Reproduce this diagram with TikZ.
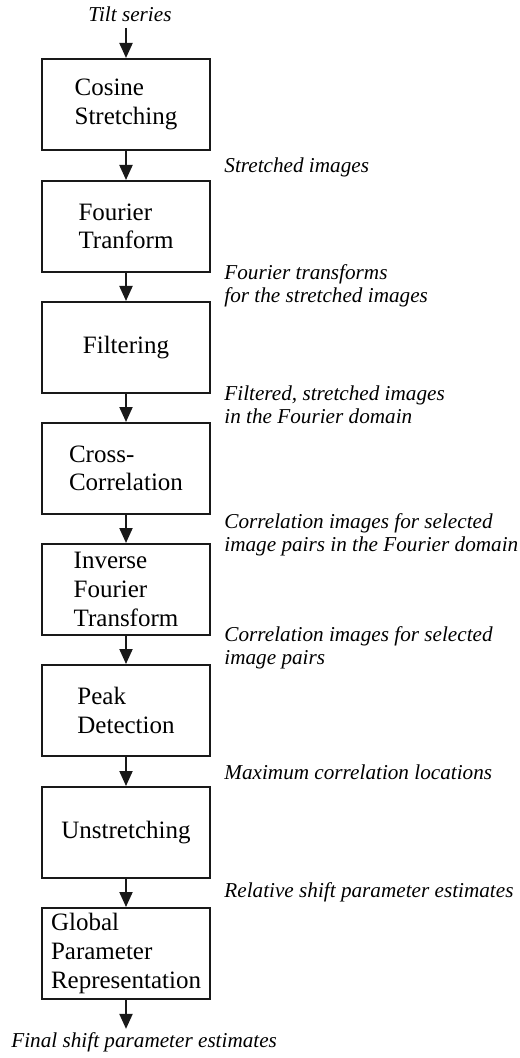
\documentclass[tikz,border=0pt]{standalone}
\usepackage{fontspec}
\setmainfont{Liberation Serif}
\usepackage{tikz}
\usetikzlibrary{arrows.meta,positioning}
\tikzset{
  stage/.style={draw=black!90, line width=1pt, minimum width=84pt, minimum height=45.5pt,
    align=left, inner sep=2pt, font=\fontsize{12.5}{14.3}\selectfont},
  note/.style={anchor=west, align=left, inner sep=0pt, font=\itshape\fontsize{10.6}{11.6}\selectfont},
  flow/.style={-{Triangle[length=7.5pt,width=6.5pt]}, line width=1pt, draw=black!90}
}

\begin{document}
\begin{tikzpicture}[x=0.5pt,y=-0.5pt]
    \useasboundingbox (0,0) rectangle (519,1058);

    \node[note, anchor=center, inner sep=3pt] (tilt) at (130,14) {Tilt series};

    \node[stage] (cos) at (126,104.5) {Cosine\\Stretching};
    \node[stage] (ft)  at (126,226.5) {Fourier\\Tranform};
    \node[stage] (fil) at (126,347.5) {Filtering};
    \node[stage] (xc)  at (126,468.5) {Cross-\\Correlation};
    \node[stage] (ift) at (126,589.5) {Inverse\\Fourier\\Transform};
    \node[stage] (pk)  at (126,710.5) {Peak\\Detection};
    \node[stage] (un)  at (126,832.5) {Unstretching};
    \node[stage] (gpr) at (126,953.5) {Global\\Parameter\\Representation};

    \node[note, inner sep=1.5pt] (final) at (8,1042) {Final shift parameter estimates};

    \node[note] (n1) at (224,167) {Stretched images};
    \node[note] (n2) at (224,286) {Fourier transforms\\for the stretched images};
    \node[note] (n3) at (224,405) {Filtered, stretched images\\in the Fourier domain};
    \node[note] (n4) at (224,535) {Correlation images for selected\\image pairs in the Fourier domain};
    \node[note] (n5) at (224,648) {Correlation images for selected\\image pairs};
    \node[note] (n6) at (224,772) {Maximum correlation locations};
    \node[note] (n7) at (224,892) {Relative shift parameter estimates};

    \draw[flow] (cos.north |- tilt.south) -- (cos);
    \draw[flow] (cos) -- (ft);
    \draw[flow] (ft) -- (fil);
    \draw[flow] (fil) -- (xc);
    \draw[flow] (xc) -- (ift);
    \draw[flow] (ift) -- (pk);
    \draw[flow] (pk) -- (un);
    \draw[flow] (un) -- (gpr);
    \draw[flow] (gpr) -- (gpr.south |- final.north);
\end{tikzpicture}
\end{document}
